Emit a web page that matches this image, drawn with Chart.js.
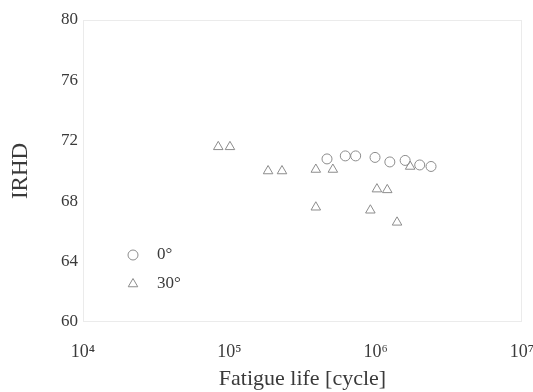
<!DOCTYPE html>
<html>
<head>
<meta charset="utf-8">
<script src="https://cdn.jsdelivr.net/npm/chart.js@4/dist/chart.umd.min.js"></script>
<style>
  html, body { margin: 0; padding: 0; background: #fff; }
  #wrap { width: 533px; height: 392px; }
</style>
</head>
<body>
<div id="wrap"><canvas id="c" width="533" height="392"></canvas></div>
<script>
// Fatigue life (cycles) vs rubber hardness (IRHD) for two loading angles
const seriesNames = ['0°', '30°'];

const life0 = [4.65e5, 6.2e5, 7.3e5, 9.9e5, 1.25e6, 1.59e6, 2.0e6, 2.39e6];
const irhd0 = [70.8, 71.0, 71.0, 70.9, 70.6, 70.7, 70.4, 70.3];

const life30 = [8.4e4, 1.01e5, 1.84e5, 2.29e5, 3.9e5, 5.1e5, 3.9e5, 1.02e6, 1.2e6, 9.2e5, 1.4e6, 1.72e6];
const irhd30 = [71.6, 71.6, 70.0, 70.0, 70.1, 70.1, 67.6, 68.8, 68.75, 67.4, 66.6, 70.3];

const xTicks = [1e4, 1e5, 1e6, 1e7];
const xTickLabels = ['10⁴', '10⁵', '10⁶', '10⁷'];
const yTicks = [60, 64, 68, 72, 76, 80];

const toPoints = (xs, ys) => xs.map((x, i) => ({ x: x, y: ys[i] }));

const markColor = '#8c8c8c';
const textColor = '#3a3a3a';
const serif = "'Liberation Serif', 'DejaVu Serif', serif";

// Faint frame around the plotting area
const framePlugin = {
  id: 'frame',
  beforeDatasetsDraw(chart) {
    const { ctx, chartArea: a } = chart;
    ctx.save();
    ctx.strokeStyle = 'rgba(0,0,0,0.08)';
    ctx.lineWidth = 1;
    ctx.strokeRect(a.left + 0.5, a.top + 0.5, a.right - a.left - 1, a.bottom - a.top - 1);
    ctx.restore();
  }
};

// Symbol key inside the lower-left of the plot
const keyPlugin = {
  id: 'key',
  afterDatasetsDraw(chart) {
    const { ctx, chartArea: a } = chart;
    const rows = chart.data.datasets.map((ds, i) => ({ ds, y: a.top + 235 + i * 29 }));
    ctx.save();
    rows.forEach(({ ds, y }) => {
      ctx.strokeStyle = ds.borderColor;
      ctx.fillStyle = 'rgba(0,0,0,0)';
      ctx.lineWidth = ds.borderWidth;
      Chart.helpers.drawPoint(ctx, { pointStyle: ds.pointStyle, radius: ds.pointRadius, borderWidth: ds.borderWidth }, a.left + 50, y);
      ctx.fillStyle = textColor;
      ctx.font = '17px ' + serif;
      ctx.textBaseline = 'middle';
      ctx.textAlign = 'left';
      ctx.fillText(ds.label, a.left + 74, y);
    });
    ctx.restore();
  }
};

new Chart(document.getElementById('c'), {
  type: 'scatter',
  data: {
    datasets: [
      {
        label: seriesNames[0],
        data: toPoints(life0, irhd0),
        pointStyle: 'circle',
        pointRadius: 5,
        borderColor: markColor,
        backgroundColor: 'rgba(0,0,0,0)',
        borderWidth: 1
      },
      {
        label: seriesNames[1],
        data: toPoints(life30, irhd30),
        pointStyle: 'triangle',
        pointRadius: 5.5,
        borderColor: markColor,
        backgroundColor: 'rgba(0,0,0,0)',
        borderWidth: 1
      }
    ]
  },
  options: {
    responsive: false,
    animation: false,
    layout: { padding: { left: 0, right: 11, top: 20, bottom: 0 } },
    plugins: {
      legend: { display: false },
      tooltip: { enabled: false }
    },
    scales: {
      x: {
        type: 'logarithmic',
        min: xTicks[0],
        max: xTicks[xTicks.length - 1],
        afterBuildTicks(scale) { scale.ticks = xTicks.map(v => ({ value: v })); },
        afterFit(scale) {
          scale.height = 70;
          scale.paddingRight = 0;
          scale.paddingLeft = 0;
        },
        grid: { display: false, drawTicks: false },
        border: { display: false },
        ticks: {
          padding: 19,
          autoSkip: false,
          maxRotation: 0,
          color: textColor,
          font: { family: serif, size: 18 },
          callback(value) {
            const i = xTicks.indexOf(value);
            return i >= 0 ? xTickLabels[i] : '';
          }
        },
        title: {
          display: true,
          text: 'Fatigue life [cycle]',
          color: textColor,
          font: { family: serif, size: 22 },
          padding: { top: 0, bottom: 0 }
        }
      },
      y: {
        min: yTicks[0],
        max: yTicks[yTicks.length - 1],
        afterBuildTicks(scale) { scale.ticks = yTicks.map(v => ({ value: v })); },
        afterFit(scale) { scale.width = 83; },
        grid: { display: false, drawTicks: false },
        border: { display: false },
        ticks: {
          padding: 5,
          color: textColor,
          font: { family: serif, size: 17 }
        },
        title: {
          display: true,
          text: 'IRHD',
          color: textColor,
          font: { family: serif, size: 23 },
          padding: { top: 7, bottom: 0 }
        }
      }
    }
  },
  plugins: [framePlugin, keyPlugin]
});
</script>
</body>
</html>
